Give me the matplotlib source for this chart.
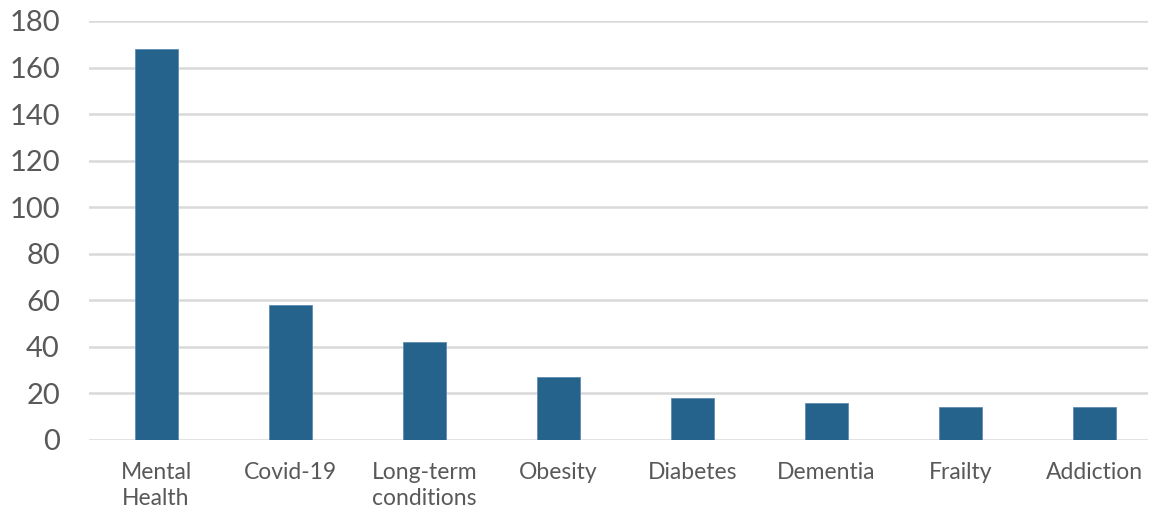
import matplotlib.pyplot as plt
import numpy as np

categories = ["Mental\nHealth", "Covid-19", "Long-term\nconditions", "Obesity",
              "Diabetes", "Dementia", "Frailty", "Addiction"]
counts = [168, 58, 42, 27, 18, 16, 14, 14]
yticks = [0, 20, 40, 60, 80, 100, 120, 140, 160, 180]

BAR = "#25628c"
TXT = "#595959"
GRID = "#d9d9d9"

plt.rcParams["font.family"] = ["Lato", "DejaVu Sans"]

fig = plt.figure(figsize=(11.49, 5.08), dpi=100)
ax = fig.add_axes([0.0775, 0.134, 0.922, 0.8247])

x = np.arange(len(categories))
ax.bar(x, counts, width=0.32, color=BAR, edgecolor="#5f8db3", linewidth=0.6, zorder=3)

# plot area runs a little past the right edge, so the last slot is cut short
ax.set_xlim(-0.5, 7.4)
ax.set_ylim(0, 180)
ax.set_yticks(yticks)
ax.set_yticklabels([str(v) for v in yticks], fontsize=21, color=TXT)
ax.set_xticks(x)
ax.set_xticklabels(categories, fontsize=16.5, color=TXT, linespacing=1.3, va="top")

ax.yaxis.grid(True, color=GRID, linewidth=1.8, zorder=0)
ax.tick_params(axis="both", length=0)
ax.tick_params(axis="x", pad=16)
ax.tick_params(axis="y", pad=21)
for s in ax.spines.values():
    s.set_visible(False)

fig.savefig("out.png", dpi=100)
